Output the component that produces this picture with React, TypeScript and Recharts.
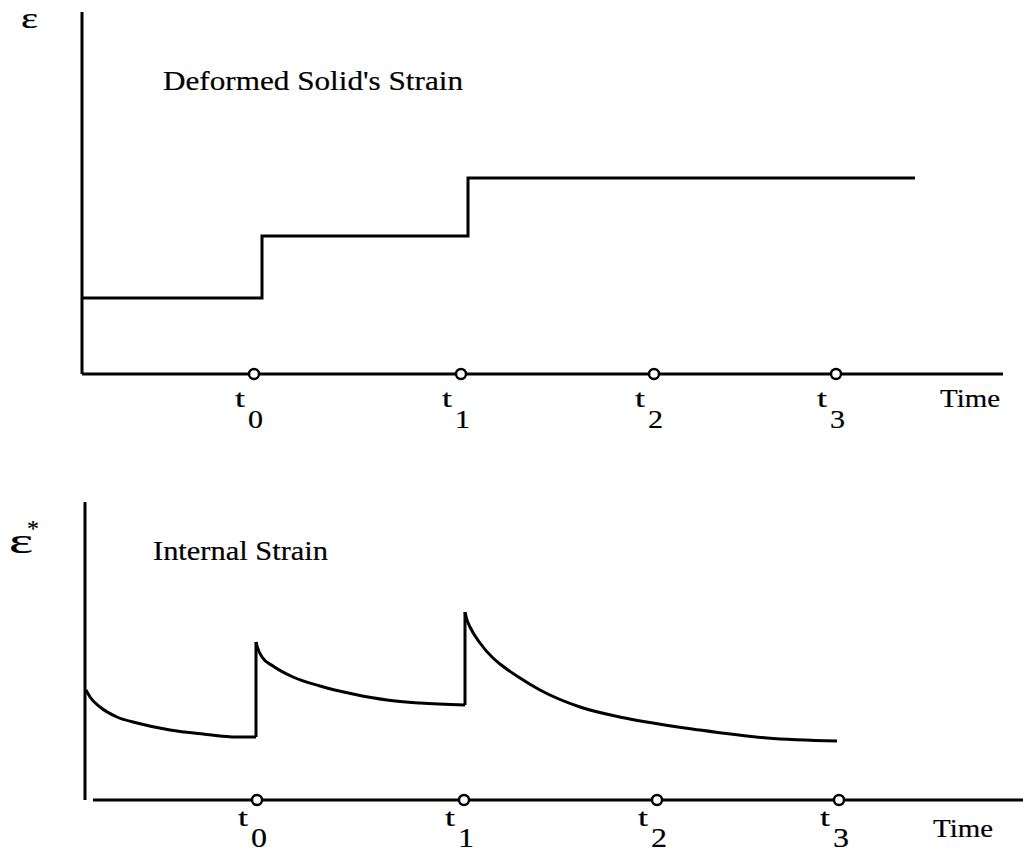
import React from 'react';
import { LineChart, Line, XAxis, YAxis, ReferenceLine, Label } from 'recharts';

// ---- data ----
const tickTimes = [1.72, 3.79, 5.72, 7.54];
const tickSubs = ['0', '1', '2', '3'];

// Deformed solid's strain (step history)
const solidTime = [0, 1.8, 1.8, 3.86, 3.86, 8.33];
const solidStrain = [0.76, 0.76, 1.38, 1.38, 1.96, 1.96];

// Internal strain: three relaxation branches
const relax1Time = [0.01, 0.05, 0.15, 0.32, 0.52, 0.85, 1.18, 1.52, 1.71];
const relax1Strain = [1.1, 1.03, 0.93, 0.83, 0.77, 0.7, 0.66, 0.63, 0.63];
const relax2Time = [1.71, 1.73, 1.77, 1.88, 2.08, 2.35, 2.68, 3.02, 3.35, 3.8];
const relax2Strain = [1.58, 1.51, 1.43, 1.34, 1.23, 1.14, 1.06, 1.0, 0.97, 0.95];
const relax3Time = [3.8, 3.82, 3.85, 3.95, 4.08, 4.15, 4.35, 4.55, 4.95, 5.4, 6.15, 6.82, 7.52];
const relax3Strain = [1.88, 1.8, 1.73, 1.57, 1.42, 1.36, 1.22, 1.1, 0.93, 0.82, 0.7, 0.62, 0.59];

const toData = (ts: number[], vs: number[]) => ts.map((t, i) => ({ t, v: vs[i] }));

const solidData = toData(solidTime, solidStrain);
const relax1 = toData(relax1Time, relax1Strain);
const relax2 = toData(relax2Time, relax2Strain);
const relax3 = toData(relax3Time, relax3Strain);
// vertical jumps at each load step: end of one branch to start of the next
const jump1 = [relax1[relax1.length - 1], { t: relax1[relax1.length - 1].t, v: relax2[0].v }];
const jump2 = [relax2[relax2.length - 1], { t: relax2[relax2.length - 1].t, v: relax3[0].v }];

const FONT = '"Liberation Serif", "Times New Roman", serif';
const INK = '#000';

const textStyle = (size: number) => ({
  fontSize: size,
  fontFamily: FONT,
  fill: INK,
  stroke: INK,
  strokeWidth: 0.2,
});

const makeTick = (tDy: number, subDy: number, subSize: number, subWidth: number) => (props: any) => {
  const { x, y, payload } = props;
  const idx = tickTimes.indexOf(payload.value);
  const sub = idx >= 0 ? tickSubs[idx] : '';
  return (
    <g>
      <circle cx={x} cy={y} r={5} fill="#fff" stroke={INK} strokeWidth={2.5} />
      <text x={x - 19} y={y + tDy} style={textStyle(25)} textLength={10} lengthAdjust="spacingAndGlyphs">t</text>
      <text x={x - 6} y={y + subDy} style={textStyle(subSize)} textLength={subWidth} lengthAdjust="spacingAndGlyphs">{sub}</text>
    </g>
  );
};

const TopNotes = () => (
  <g>
    <text x={21} y={28} style={textStyle(30)} textLength={17} lengthAdjust="spacingAndGlyphs">ε</text>
    <text x={163} y={90} style={textStyle(27)} textLength={300} lengthAdjust="spacingAndGlyphs">Deformed Solid's Strain</text>
    <text x={940} y={407} style={textStyle(26)} textLength={60} lengthAdjust="spacingAndGlyphs">Time</text>
  </g>
);

const BottomNotes = () => (
  <g>
    <text x={9} y={123} style={textStyle(36)} textLength={24} lengthAdjust="spacingAndGlyphs">ε</text>
    <text x={27} y={106} style={textStyle(24)}>*</text>
    <text x={153} y={130} style={textStyle(27)} textLength={175} lengthAdjust="spacingAndGlyphs">Internal Strain</text>
    <text x={933} y={407} style={textStyle(26)} textLength={60} lengthAdjust="spacingAndGlyphs">Time</text>
  </g>
);

const lineProps = {
  dataKey: 'v',
  stroke: INK,
  strokeWidth: 3,
  dot: false,
  activeDot: false,
  isAnimationActive: false,
  legendType: 'none' as const,
};

export default function App() {
  return (
    <div style={{ position: 'absolute', left: 0, top: 0, width: 1023, height: 858, background: '#fff' }}>
      <div style={{ position: 'absolute', left: 0, top: 0 }}>
        <LineChart width={1023} height={450} margin={{ top: 12, right: 20, bottom: 20, left: 0 }}>
          <XAxis
            dataKey="t"
            type="number"
            domain={[0, 9.21]}
            ticks={tickTimes}
            interval={0}
            height={56}
            tickLine={false}
            tickSize={0}
            tickMargin={0}
            axisLine={{ stroke: INK, strokeWidth: 3 }}
            tick={makeTick(33, 54, 25, 15)}
            allowDataOverflow
          />
          <YAxis
            type="number"
            domain={[0, 3.62]}
            width={82}
            tick={false}
            tickLine={false}
            axisLine={{ stroke: INK, strokeWidth: 3 }}
            allowDataOverflow
          >
            <Label content={() => <TopNotes />} />
          </YAxis>
          <Line {...lineProps} data={solidData} type="linear" strokeLinejoin="miter" />
        </LineChart>
      </div>
      <div style={{ position: 'absolute', left: 0, top: 430 }}>
        <LineChart width={1023} height={428} margin={{ top: 72, right: 0, bottom: 0, left: 0 }}>
          <ReferenceLine
            segment={[{ x: 0.08, y: 0 }, { x: 9.38, y: 0 }]}
            stroke={INK}
            strokeWidth={3}
          />
          <XAxis
            dataKey="t"
            type="number"
            domain={[0, 9.38]}
            ticks={tickTimes}
            interval={0}
            height={58}
            tickLine={false}
            tickSize={0}
            tickMargin={0}
            axisLine={false}
            tick={makeTick(26, 47, 27, 16)}
            allowDataOverflow
          />
          <YAxis
            type="number"
            domain={[0, 2.98]}
            width={85}
            tick={false}
            tickLine={false}
            axisLine={{ stroke: INK, strokeWidth: 3 }}
            allowDataOverflow
          >
            <Label content={() => <BottomNotes />} />
          </YAxis>
          <Line {...lineProps} data={relax1} type="monotoneX" />
          <Line {...lineProps} data={jump1} type="linear" />
          <Line {...lineProps} data={relax2} type="monotoneX" />
          <Line {...lineProps} data={jump2} type="linear" />
          <Line {...lineProps} data={relax3} type="monotoneX" />
        </LineChart>
      </div>
    </div>
  );
}
